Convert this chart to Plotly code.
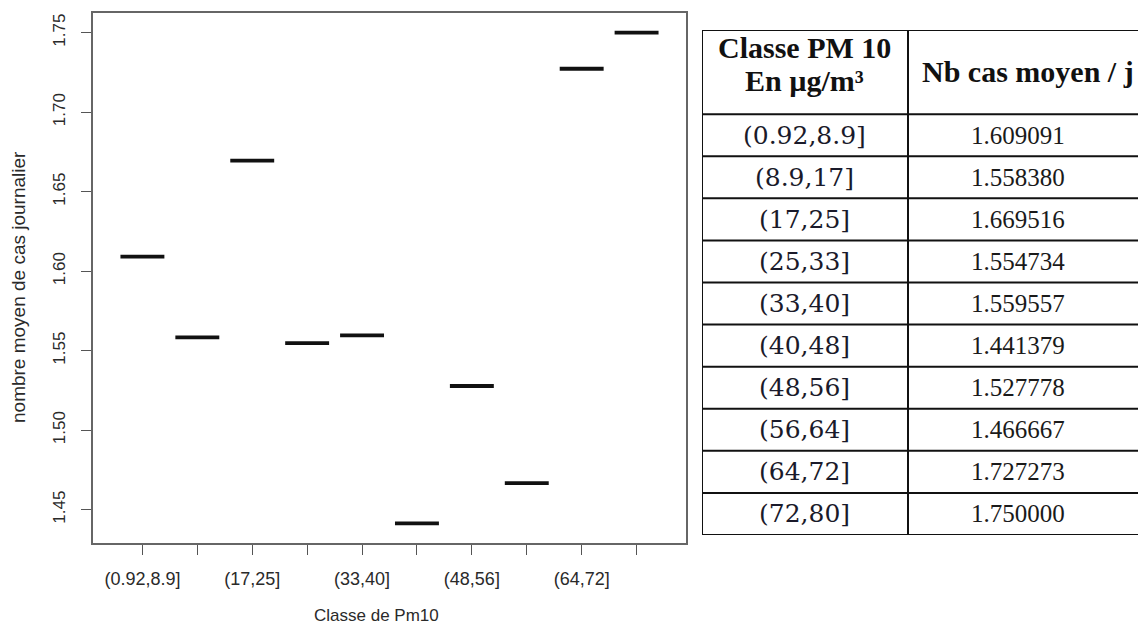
import plotly.graph_objects as go

# ---- data ----
classes = ["(0.92,8.9]", "(8.9,17]", "(17,25]", "(25,33]", "(33,40]",
           "(40,48]", "(48,56]", "(56,64]", "(64,72]", "(72,80]"]
nb_cas = [1.609091, 1.558380, 1.669516, 1.554734, 1.559557,
          1.441379, 1.527778, 1.466667, 1.727273, 1.750000]
nb_cas_text = ["1.609091", "1.558380", "1.669516", "1.554734", "1.559557",
               "1.441379", "1.527778", "1.466667", "1.727273", "1.750000"]
y_ticks = [1.45, 1.50, 1.55, 1.60, 1.65, 1.70, 1.75]
header_col1 = ["Classe PM 10", "En µg/m³"]
header_col2 = "Nb cas moyen / j"
x_title = "Classe de Pm10"
y_title = "nombre moyen de cas journalier"

W, H = 1146, 628
OFF = 8  # page body margin in the browser


def px_x(p):
    return (p - OFF) / W


def px_y(p):
    return 1 - (p - OFF) / H


positions = list(range(1, len(classes) + 1))
half = 0.4

# segments (boxplot medians)
xs, ys = [], []
for p, v in zip(positions, nb_cas):
    xs += [p - half, p + half, None]
    ys += [v, v, None]

fig = go.Figure()
fig.add_trace(go.Scatter(x=xs, y=ys, mode="lines",
                         line=dict(color="#111111", width=3.8),
                         hoverinfo="skip", showlegend=False))

ymin, ymax = min(nb_cas), max(nb_cas)
ext = (ymax - ymin) * 0.04
n = len(classes)
xext = n * 0.04

tick_text = [c if i % 2 == 0 else "" for i, c in enumerate(classes)]

xtick_font = dict(family="Liberation Sans, Arial", size=18, color="#2a2a2a")
ytick_font = dict(family="Liberation Sans, Arial", size=17, color="#2a2a2a")

fig.update_layout(
    width=W, height=H,
    margin=dict(l=0, r=0, t=0, b=0),
    paper_bgcolor="white", plot_bgcolor="white",
    showlegend=False,
    xaxis=dict(
        domain=[px_x(93), px_x(686)],
        range=[0.5 - xext, n + 0.5 + xext],
        tickmode="array", tickvals=positions, ticktext=tick_text,
        ticks="outside", ticklen=10, tickwidth=1.3, tickcolor="#555555",
        ticklabelstandoff=9,
        showline=True, mirror=True, linecolor="#666666", linewidth=1.5,
        showgrid=False, zeroline=False,
        tickfont=xtick_font,
    ),
    yaxis=dict(
        domain=[px_y(543), px_y(13)],
        range=[ymin - ext, ymax + ext],
        tickmode="array", tickvals=y_ticks,
        ticktext=[f"{t:.2f}" for t in y_ticks],
        tickangle=-90,
        ticks="outside", ticklen=10, tickwidth=1.3, tickcolor="#555555",
        ticklabelstandoff=9,
        showline=True, mirror=True, linecolor="#666666", linewidth=1.5,
        showgrid=False, zeroline=False,
        tickfont=ytick_font,
    ),
    # table axes (pixel-like column units, row units)
    xaxis2=dict(domain=[px_x(702), 1.0], range=[0, W + OFF - 702],
                visible=False, fixedrange=True),
    yaxis2=dict(domain=[px_y(535), px_y(30)], range=[len(classes) + 2, 0],
                visible=False, fixedrange=True),
)

fig.add_annotation(xref="paper", yref="paper", x=px_x(376), y=px_y(615),
                   xanchor="center", yanchor="middle",
                   text=x_title, showarrow=False,
                   font=dict(family="Liberation Sans, Arial", size=17, color="#2a2a2a"))
fig.add_annotation(xref="paper", yref="paper", x=px_x(18), y=px_y(287),
                   xanchor="center", yanchor="middle",
                   text=y_title, showarrow=False, textangle=-90,
                   font=dict(family="Liberation Sans, Arial", size=19, color="#2a2a2a"))

# ---- table drawn on axes x2/y2 ----
col_split = 206
c1 = 102
c2_head = 326
c2 = 316
line = dict(color="#111111", width=2)
nrows = len(classes)
for yy in [0, 2] + [2 + i + 1 for i in range(nrows)]:
    fig.add_shape(type="line", xref="x2", yref="y2", x0=0, x1=W,
                  y0=yy, y1=yy, line=line)
for xx in [0, col_split]:
    fig.add_shape(type="line", xref="x2", yref="y2", x0=xx, x1=xx,
                  y0=0, y1=nrows + 2, line=line)

serif = "Liberation Serif, Times New Roman"
hfont = dict(family=serif, size=30, color="#111111")
fig.add_annotation(xref="x2", yref="y2", x=c1, y=0.42, text=f"<b>{header_col1[0]}</b>",
                   xanchor="center", yanchor="middle", showarrow=False, font=hfont)
fig.add_annotation(xref="x2", yref="y2", x=c1, y=1.2, text=f"<b>{header_col1[1]}</b>",
                   xanchor="center", yanchor="middle", showarrow=False, font=hfont)
fig.add_annotation(xref="x2", yref="y2", x=c2_head, y=0.98, text=f"<b>{header_col2}</b>",
                   xanchor="center", yanchor="middle", showarrow=False, font=hfont)
for i, (c, t) in enumerate(zip(classes, nb_cas_text)):
    fig.add_annotation(xref="x2", yref="y2", x=c1, y=2 + i + 0.5, text=c,
                       xanchor="center", yanchor="middle", showarrow=False,
                       font=dict(family="DejaVu Serif", size=25, color="#1a1a2a"))
    fig.add_annotation(xref="x2", yref="y2", x=c2, y=2 + i + 0.5, text=t,
                       xanchor="center", yanchor="middle", showarrow=False,
                       font=dict(family=serif, size=25, color="#1a1a1a"))

fig.write_html("out.html")
